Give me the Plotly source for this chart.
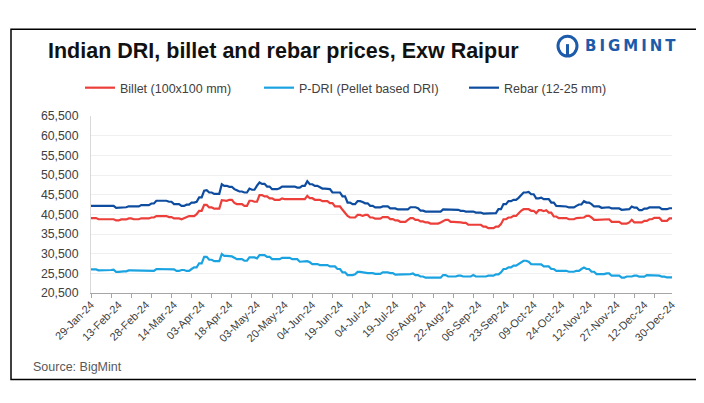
import plotly.graph_objects as go

# x-axis labels, one every 11 trading days
tick_labels = [
    "29-Jan-24", "13-Feb-24", "28-Feb-24", "14-Mar-24", "03-Apr-24", "18-Apr-24",
    "03-May-24", "20-May-24", "04-Jun-24", "19-Jun-24", "04-Jul-24", "19-Jul-24",
    "05-Aug-24", "22-Aug-24", "06-Sep-24", "23-Sep-24", "09-Oct-24", "24-Oct-24",
    "12-Nov-24", "27-Nov-24", "12-Dec-24", "30-Dec-24",
]

billet = [
    39550, 39550, 39550, 39250, 39250, 39250, 39400, 39400, 39400,
    39250, 38950, 38950, 39200, 39200, 39200, 39450, 39450, 39250,
    39250, 39250, 39500, 39500, 39450, 39450, 39700, 39700, 40050,
    40050, 40050, 40050, 40050, 39800, 39800, 39450, 39450, 39450,
    39250, 39500, 39800, 40050, 40050, 40050, 40550, 41400,
    41400, 42900, 42900, 42250, 42250, 41950, 41950, 41950, 44100,
    43950, 43950, 44200, 44200, 43400, 43100, 43100, 43100, 42650,
    42650, 43950, 43950, 43700, 43700, 45400, 45400, 45050, 45050,
    44550, 44550, 44200, 44200, 44200, 44550, 44350, 44350, 44350,
    44200, 44200, 44200, 44350, 44350, 44350, 45200, 44600, 44600,
    44200, 44200, 44200, 43850, 43850, 43850, 43350, 43350, 42500,
    42500, 42500, 41650, 40900, 40100, 39700, 39700, 39700, 40350,
    40350, 40100, 40350, 40350, 39700, 39700, 39400, 39400, 39400,
    39800, 39800, 39800, 39300, 39300, 38950, 38950, 38600,
    38600, 38600, 39100, 39550, 39550, 39100, 39100, 38700, 38700,
    38450, 38450, 38150, 38150, 38150, 38150, 38450, 38700, 39100,
    39100, 38600, 38600, 38600, 38450, 38450, 38350, 38350, 37900,
    37900, 37900, 37850, 37850, 37850, 37350, 37350, 37000, 37000,
    37000, 37400, 37400, 38000, 39250, 39250, 39700, 39700, 40100,
    40100, 40800, 41400, 41800, 41800, 41800, 41400, 41400, 40800,
    41550, 41550, 41300, 41550, 40950, 40950, 39950, 39950, 39550,
    39550, 39550, 39550, 39250, 39250, 39250, 39550, 39550, 39700,
    39700, 40100, 40100, 39700, 39100, 39100, 39100, 39100,
    39100, 39250, 39250, 38600, 38600, 38600, 38600, 38150, 38150,
    38150, 38450, 39100, 38450, 38450, 38450, 38450, 38850, 38850,
    39250, 39250, 39600, 39600, 39600, 38850, 38850, 38850, 39450,
    39450,
]

pdri = [
    26500, 26500, 26500, 26250, 26250, 26250, 26350, 26350, 26350,
    26450, 25850, 25850, 26000, 26000, 26000, 26250, 26250, 26250,
    26100, 26100, 26100, 26100, 26100, 26100, 26100, 26100, 26600,
    26600, 26600, 26600, 26600, 26500, 26500, 26500, 26100, 26100,
    26350, 26350, 26100, 26100, 26600, 27000, 27000, 28050,
    28050, 29700, 29700, 28950, 28950, 28600, 28600, 28600, 30400,
    29950, 29950, 29800, 29800, 29450, 29100, 29100, 29100, 28700,
    28700, 29550, 29550, 29550, 29300, 30150, 30150, 30150, 29700,
    29700, 29100, 29100, 29100, 29100, 29450, 29450, 29450, 29450,
    29100, 29100, 29100, 28450, 28450, 28600, 28600, 28300, 27850,
    27850, 27850, 27600, 27600, 27600, 27600, 27250, 27250, 27250,
    26600, 26600, 25750, 25750, 25050, 25050, 25050, 25250, 25850,
    25850, 25700, 25550, 25550, 25550, 25550, 25350, 25350, 25350,
    25750, 25750, 25750, 25550, 25550, 25150, 25150, 25150,
    25150, 25150, 25300, 25300, 25450, 25050, 25050, 24700, 24700,
    24400, 24400, 24400, 24400, 24400, 24400, 24400, 25050, 25050,
    24700, 24700, 24700, 24700, 24900, 24900, 24700, 24700, 24700,
    24700, 25050, 24700, 24700, 24700, 24700, 24700, 24900, 24900,
    24900, 25250, 25250, 25750, 26600, 26600, 27000, 27000, 27450,
    27450, 27850, 28150, 28700, 28700, 28450, 27850, 27850, 27850,
    27850, 27800, 27250, 27250, 27250, 26600, 26600, 26150, 26150,
    26150, 26150, 26150, 25900, 25900, 25900, 26150, 26150, 26600,
    27000, 26600, 26600, 25900, 25900, 25300, 25300, 25300,
    25300, 25500, 25500, 24900, 24900, 24900, 24900, 24400, 24400,
    24700, 24700, 24700, 24900, 24900, 24650, 24650, 24650, 25050,
    25050, 24900, 24900, 24900, 24900, 24650, 24650, 24450, 24450,
    24450,
]

rebar = [
    42650, 42650, 42650, 42650, 42650, 42650, 42650, 42650, 42650,
    42650, 42150, 42150, 42300, 42300, 42300, 42550, 42550, 42500,
    42500, 42500, 42850, 42850, 42850, 42850, 43250, 43250, 43950,
    43950, 43950, 43950, 43950, 43700, 43700, 43100, 43100, 43100,
    42650, 42650, 42950, 42950, 43500, 43500, 43700, 44800,
    44800, 46500, 46650, 46050, 46050, 45700, 45700, 45700, 48150,
    47750, 47750, 47500, 47500, 46900, 46600, 46300, 46300, 46050,
    46050, 47050, 46750, 46750, 47800, 48600, 48250, 48250, 47550,
    47550, 46900, 46900, 46900, 47150, 47550, 47550, 47550, 47550,
    47550, 47550, 47300, 47300, 47750, 47750, 48900, 48150, 48150,
    47750, 47750, 47500, 47050, 47050, 47050, 46900, 46050, 46050,
    46050, 46050, 45050, 45050, 43500, 43500, 43100, 43100, 43850,
    43850, 43650, 43300, 43300, 42650, 42650, 42250, 42250, 42250,
    42500, 42500, 42500, 42000, 42000, 42000, 41750, 41750,
    41750, 41750, 41750, 42300, 42300, 42300, 42050, 41450, 41450,
    41200, 41200, 41200, 41200, 41200, 41200, 41200, 41750, 41750,
    41650, 41650, 41650, 41650, 41650, 41400, 41400, 41200, 41200,
    41200, 41200, 40950, 40950, 40950, 40700, 40700, 40800, 40800,
    40800, 40800, 41800, 41800, 43100, 43100, 43850, 43850, 44200,
    44200, 44700, 45400, 46050, 46050, 46200, 45600, 45600, 44550,
    44550, 44750, 44350, 44350, 44350, 43500, 43500, 42650, 42650,
    42500, 42500, 42500, 42250, 42250, 42250, 42650, 43000, 43000,
    43850, 43500, 43500, 43100, 42500, 42500, 42500, 42150,
    42150, 42300, 42300, 42000, 42000, 42000, 42000, 41650, 41650,
    41650, 41800, 42500, 42200, 42200, 41550, 41550, 41950, 41950,
    42250, 42250, 42250, 42250, 42250, 41800, 41800, 41800, 42050,
    42050,
]

LABEL_STEP = 11  # one date label every 11 trading days
TICK_STEP = 8  # Excel-style tick marks, not lined up with the labels

FONT = "Liberation Sans, Arial, sans-serif"
n = len(rebar)
x = list(range(n))

fig = go.Figure()

series = [
    ("Billet (100x100 mm)", billet, "#EC3F3A", "legend"),
    ("P-DRI (Pellet based DRI)", pdri, "#1BA3E1", "legend2"),
    ("Rebar (12-25 mm)", rebar, "#0D4C9E", "legend3"),
]
for name, values, color, legend in series:
    fig.add_trace(
        go.Scatter(
            x=x,
            y=values,
            mode="lines",
            name=name,
            line={"color": color, "width": 2.2},
            legend=legend,
        )
    )

# invisible trace so the tick-mark axis gets drawn
fig.add_trace(
    go.Scatter(x=[0], y=[None], xaxis="x2", showlegend=False, hoverinfo="skip")
)


# page pixels (the page body adds an 8px offset) -> paper coordinates
def px_x(px):
    return (px - 91) / 581


def px_y(py):
    return (293.3 - py) / 177.3


legend_common = {
    "orientation": "h",
    "xanchor": "left",
    "yanchor": "middle",
    "font": {"family": FONT, "size": 12.5, "color": "#404040"},
    "bgcolor": "rgba(0,0,0,0)",
}
fig.update_layout(
    width=696,
    height=395,
    margin={"l": 83, "r": 32, "t": 108, "b": 110},
    paper_bgcolor="white",
    plot_bgcolor="white",
    font={"family": FONT, "color": "#404040"},
    title={
        "text": "<b>Indian DRI, billet and rebar prices, Exw Raipur</b>",
        "x": 40 / 696,
        "xanchor": "left",
        "y": 1 - 42 / 395,
        "yanchor": "middle",
        "font": {"family": FONT, "size": 21.5, "color": "#111111"},
    },
    legend={**legend_common, "x": px_x(80), "y": px_y(88)},
    legend2={**legend_common, "x": px_x(259), "y": px_y(88)},
    legend3={**legend_common, "x": px_x(464), "y": px_y(88)},
    xaxis={
        "range": [0, n - 1],
        "tickvals": list(range(0, n, LABEL_STEP)),
        "ticktext": tick_labels,
        "tickangle": -45,
        "ticks": "",
        "showgrid": False,
        "showline": True,
        "linecolor": "#a6a6a6",
        "linewidth": 1,
        "zeroline": False,
        "tickfont": {"family": FONT, "size": 11, "color": "#404040"},
    },
    xaxis2={
        "overlaying": "x",
        "anchor": "y",
        "side": "bottom",
        "range": [0, n - 1],
        "tickvals": list(range(0, n, TICK_STEP)),
        "ticks": "outside",
        "ticklen": 4,
        "tickcolor": "#a6a6a6",
        "showticklabels": False,
        "showgrid": False,
        "showline": False,
        "zeroline": False,
    },
    yaxis={
        "range": [20500, 65500],
        "tick0": 20500,
        "dtick": 5000,
        "tickformat": ",d",
        "showgrid": True,
        "gridcolor": "#efefef",
        "gridwidth": 1,
        "showline": True,
        "linecolor": "#d9d9d9",
        "zeroline": False,
        "ticks": "",
        "ticklabelstandoff": 9,
        "tickfont": {"family": FONT, "size": 12.3, "color": "#404040"},
    },
    showlegend=True,
)

# outer frame round the whole chart
fig.add_shape(
    type="rect",
    xref="paper",
    yref="paper",
    x0=px_x(11),
    x1=px_x(697),
    y0=px_y(380),
    y1=px_y(29),
    line={"color": "black", "width": 1.5},
    layer="below",
)

# BigMint logo: ring icon plus wordmark
fig.add_shape(
    type="circle",
    xref="paper",
    yref="paper",
    x0=px_x(558),
    x1=px_x(577),
    y0=px_y(56),
    y1=px_y(36),
    line={"color": "#1B5BAA", "width": 3},
)
fig.add_shape(
    type="line",
    xref="paper",
    yref="paper",
    x0=px_x(567.5),
    x1=px_x(567.5),
    y0=px_y(55),
    y1=px_y(44),
    line={"color": "#1B5BAA", "width": 3},
)
fig.add_annotation(
    text="<b>B\u2009I\u2009G\u2009M\u2009I\u2009N\u2009T</b>",
    xref="paper",
    yref="paper",
    x=px_x(583),
    y=px_y(46),
    xanchor="left",
    yanchor="middle",
    showarrow=False,
    font={"family": "DejaVu Sans, sans-serif", "size": 15, "color": "#1B5BAA"},
)

fig.add_annotation(
    text="Source: BigMint",
    xref="paper",
    yref="paper",
    x=px_x(31),
    y=px_y(367),
    xanchor="left",
    yanchor="middle",
    showarrow=False,
    font={"family": FONT, "size": 12.5, "color": "#595959"},
)

fig.write_html("out.html")
